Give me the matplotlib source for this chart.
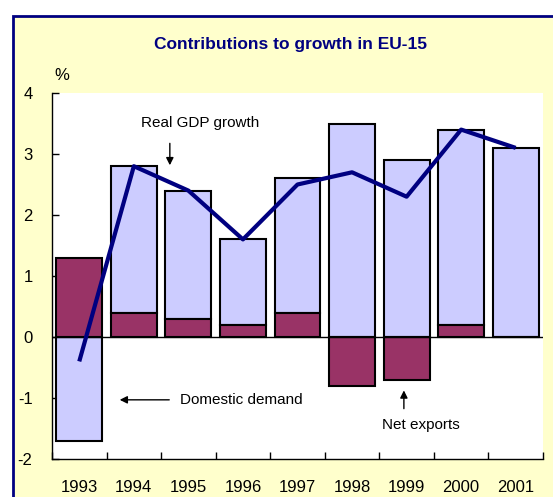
import matplotlib
matplotlib.use("Agg")
import matplotlib.pyplot as plt
import matplotlib.patches as patches
import numpy as np

plt.rcParams['font.family'] = ['Liberation Sans Narrow', 'Liberation Sans', 'DejaVu Sans']

years = ["1993", "1994", "1995", "1996", "1997", "1998", "1999", "2000", "2001"]
net_exports = [1.3, 0.4, 0.3, 0.2, 0.4, -0.8, -0.7, 0.2, 0.0]
domestic_demand = [-1.7, 2.4, 2.1, 1.4, 2.2, 3.5, 2.9, 3.2, 3.1]
gdp_growth = [-0.4, 2.8, 2.4, 1.6, 2.5, 2.7, 2.3, 3.4, 3.1]
y_ticks = [-2, -1, 0, 1, 2, 3, 4]

NAVY = '#000080'
W, H = 553, 497

fig = plt.figure(figsize=(W / 100, H / 100), dpi=100, facecolor='white')

# yellow panel with navy frame (runs off right/bottom edges)
frame = patches.Rectangle((12.5 / W, -0.05), 1.2, (H - 15.5) / H + 0.05,
                          transform=fig.transFigure, facecolor='#FFFFCC',
                          edgecolor=NAVY, linewidth=2, zorder=-5)
fig.patches.append(frame)

ax = fig.add_axes([52 / W, 1 - 459 / H, (543 - 52) / W, (459 - 93) / H])
ax.set_zorder(1)
ax.set_facecolor('white')

x = np.arange(len(years))
bw = 0.84
# net exports from zero, domestic demand stacked on positive net exports
dd_base = [n if (n > 0 and d > 0) else 0 for n, d in zip(net_exports, domestic_demand)]
ax.bar(x, domestic_demand, bw, bottom=dd_base, color='#CCCCFF',
       edgecolor='black', linewidth=1.5, zorder=2)
ax.bar(x, net_exports, bw, color='#993366', edgecolor='black',
       linewidth=1.5, zorder=2)
ax.axhline(0, color='black', linewidth=1, zorder=3)
ax.plot(x, gdp_growth, color=NAVY, linewidth=3, zorder=4, solid_capstyle='butt')

ax.set_xlim(-0.5, len(years) - 0.5)
ax.set_ylim(-2, 4)
ax.set_yticks(y_ticks)
ax.set_yticklabels([str(t) for t in y_ticks], fontsize=12)
ax.set_xticks(np.arange(len(years) + 1) - 0.5)
ax.set_xticklabels([])
ax.set_xticks(x, minor=True)
ax.set_xticklabels(years, minor=True, fontsize=12)
ax.tick_params(axis='x', which='minor', length=0, pad=15)
ax.tick_params(axis='x', which='major', direction='in', length=5, width=1)
ax.tick_params(axis='y', direction='in', length=5, width=1, pad=14)
for s in ['top', 'right']:
    ax.spines[s].set_visible(False)
for s in ['left', 'bottom']:
    ax.spines[s].set_linewidth(1)

fig.text(290 / W, 1 - 45 / H, 'Contributions to growth in EU-15', ha='center',
         va='center', fontsize=12.5, fontweight='bold', color=NAVY)
fig.text(62 / W, 1 - 75 / H, '%', ha='center', va='center', fontsize=12)

arrow = dict(arrowstyle='-|>', color='black', linewidth=1, mutation_scale=11)
ax.text(2.21, 3.5, 'Real GDP growth', ha='center', va='center', fontsize=11, zorder=5)
ax.annotate('', xy=(1.66, 2.77), xytext=(1.66, 3.22), arrowprops=arrow, zorder=5)
ax.text(1.84, -1.03, 'Domestic demand', ha='left', va='center', fontsize=11, zorder=5)
ax.annotate('', xy=(0.69, -1.03), xytext=(1.70, -1.03), arrowprops=arrow, zorder=5)
ax.text(6.26, -1.44, 'Net exports', ha='center', va='center', fontsize=11, zorder=5)
ax.annotate('', xy=(5.95, -0.83), xytext=(5.95, -1.22), arrowprops=arrow, zorder=5)

fig.savefig('out.png', dpi=100, facecolor=fig.get_facecolor())
